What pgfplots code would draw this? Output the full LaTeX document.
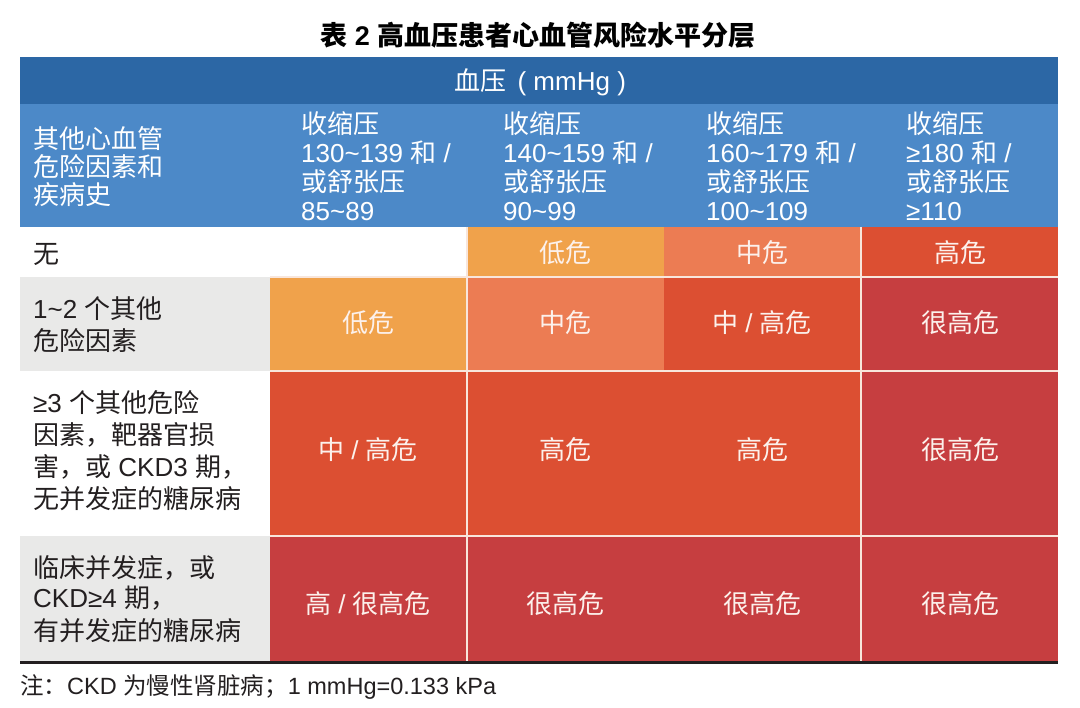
\documentclass[border=0pt]{standalone}
\usepackage{pgfplots}
\pgfplotsset{compat=1.18}
\usepackage{fontspec}
\setmainfont{Liberation Sans}
\newfontfamily\cjk{Noto Sans CJK SC}
\newcommand{\zh}[1]{{\cjk #1}}
\definecolor{darkblue}{HTML}{2C67A5}
\definecolor{lightblue}{HTML}{4C89C8}
\definecolor{lowc}{HTML}{F0A24B}
\definecolor{midc}{HTML}{EC7C53}
\definecolor{highc}{HTML}{DC4F32}
\definecolor{vhighc}{HTML}{C63E40}
\definecolor{grayc}{HTML}{E9E9E8}
\definecolor{sepc}{HTML}{F8E6DC}
\definecolor{txt}{HTML}{231F20}
\definecolor{celltxt}{HTML}{FCF1EC}
\newcommand{\cell}[5]{\addplot[fill=#5,draw=none] coordinates {(#1,#3) (#2,#3) (#2,#4) (#1,#4)} -- cycle;}
\tikzset{
 base/.style={inner sep=0pt, text height=23pt, text depth=3pt, font=\fontsize{26}{26}\selectfont},
 hd/.style={base, anchor=west, text=white},
 lt/.style={base, anchor=west, text=txt},
 cl/.style={base, anchor=center, text=celltxt},
}
\begin{document}
\begin{tikzpicture}
\begin{axis}[
  width=1080pt, height=708pt, scale only axis,
  xmin=0, xmax=1080, ymin=0, ymax=708, y dir=reverse,
  hide axis, clip=false,
]
% background
\cell{0}{1080}{0}{708}{white}
% header bands
\cell{20}{1058}{57}{104}{darkblue}
\cell{20}{1058}{104}{227}{lightblue}
% left column shading
\cell{20}{270}{277}{371}{grayc}
\cell{20}{270}{536}{662}{grayc}
% row 1
\cell{467}{664}{227}{277}{lowc}
\cell{664}{861}{227}{277}{midc}
\cell{861}{1058}{227}{277}{highc}
% row 2
\cell{270}{467}{277}{371}{lowc}
\cell{467}{664}{277}{371}{midc}
\cell{664}{861}{277}{371}{highc}
\cell{861}{1058}{277}{371}{vhighc}
% row 3
\cell{270}{467}{371}{536}{highc}
\cell{467}{664}{371}{536}{highc}
\cell{664}{861}{371}{536}{highc}
\cell{861}{1058}{371}{536}{vhighc}
% row 4
\cell{270}{467}{536}{662}{vhighc}
\cell{467}{664}{536}{662}{vhighc}
\cell{664}{861}{536}{662}{vhighc}
\cell{861}{1058}{536}{662}{vhighc}
% separators
\addplot[sepc, line width=1.5pt] coordinates {(270,277) (1058,277)};
\addplot[sepc, line width=1.5pt] coordinates {(270,371) (1058,371)};
\addplot[sepc, line width=1.5pt] coordinates {(270,536) (1058,536)};
\addplot[sepc, line width=1.5pt] coordinates {(467,227) (467,662)};
\addplot[sepc, line width=1.5pt] coordinates {(861,227) (861,662)};
% bottom rule
\addplot[txt, line width=3pt] coordinates {(20,662.5) (1058,662.5)};

% title
\node[inner sep=0pt, text=black, font=\fontsize{27}{27}\selectfont\bfseries] at (538,35) {\zh{表} 2 \zh{高血压患者心血管风险水平分层}};
% header
\node[base, text=white, anchor=center] at (540,81) {\zh{血压} \,( mmHg )};
\node[hd] at (33,139) {\zh{其他心血管}};
\node[hd] at (33,167) {\zh{危险因素和}};
\node[hd] at (33,195) {\zh{疾病史}};

\node[hd] at (301,124) {\zh{收缩压}};
\node[hd] at (301,153) {130\textasciitilde139 \zh{和} /};
\node[hd] at (301,182) {\zh{或舒张压}};
\node[hd] at (301,211) {85\textasciitilde89};

\node[hd] at (503,124) {\zh{收缩压}};
\node[hd] at (503,153) {140\textasciitilde159 \zh{和} /};
\node[hd] at (503,182) {\zh{或舒张压}};
\node[hd] at (503,211) {90\textasciitilde99};

\node[hd] at (706,124) {\zh{收缩压}};
\node[hd] at (706,153) {160\textasciitilde179 \zh{和} /};
\node[hd] at (706,182) {\zh{或舒张压}};
\node[hd] at (706,211) {100\textasciitilde109};

\node[hd] at (906,124) {\zh{收缩压}};
\node[hd] at (906,153) {≥180 \zh{和} /};
\node[hd] at (906,182) {\zh{或舒张压}};
\node[hd] at (906,211) {≥110};

% left column
\node[lt] at (33,254) {\zh{无}};
\node[lt] at (33,309) {1\textasciitilde2 \zh{个其他}};
\node[lt] at (33,341) {\zh{危险因素}};
\node[lt] at (33,403) {≥3 \zh{个其他危险}};
\node[lt] at (33,435) {\zh{因素，靶器官损}};
\node[lt] at (33,467) {\zh{害，或} CKD3 \zh{期，}};
\node[lt] at (33,499) {\zh{无并发症的糖尿病}};
\node[lt] at (33,568) {\zh{临床并发症，或}};
\node[lt] at (33,598) {CKD≥4 \zh{期，}};
\node[lt] at (33,630) {\zh{有并发症的糖尿病}};

% cell labels
\node[cl] at (565,253) {\zh{低危}};
\node[cl] at (762,253) {\zh{中危}};
\node[cl] at (960,253) {\zh{高危}};
\node[cl] at (368,323) {\zh{低危}};
\node[cl] at (565,323) {\zh{中危}};
\node[cl] at (762,323) {\zh{中} / \zh{高危}};
\node[cl] at (960,323) {\zh{很高危}};
\node[cl] at (368,450) {\zh{中} / \zh{高危}};
\node[cl] at (565,450) {\zh{高危}};
\node[cl] at (762,450) {\zh{高危}};
\node[cl] at (960,450) {\zh{很高危}};
\node[cl] at (368,603) {\zh{高} / \zh{很高危}};
\node[cl] at (565,603) {\zh{很高危}};
\node[cl] at (762,603) {\zh{很高危}};
\node[cl] at (960,603) {\zh{很高危}};

% note
\node[inner sep=0pt, anchor=west, text=txt, font=\fontsize{23.5}{23.5}\selectfont, text height=20pt, text depth=3pt] at (20,686) {\zh{注：}CKD \zh{为慢性肾脏病；}1 mmHg=0.133 kPa};
\end{axis}
\end{tikzpicture}
\end{document}
